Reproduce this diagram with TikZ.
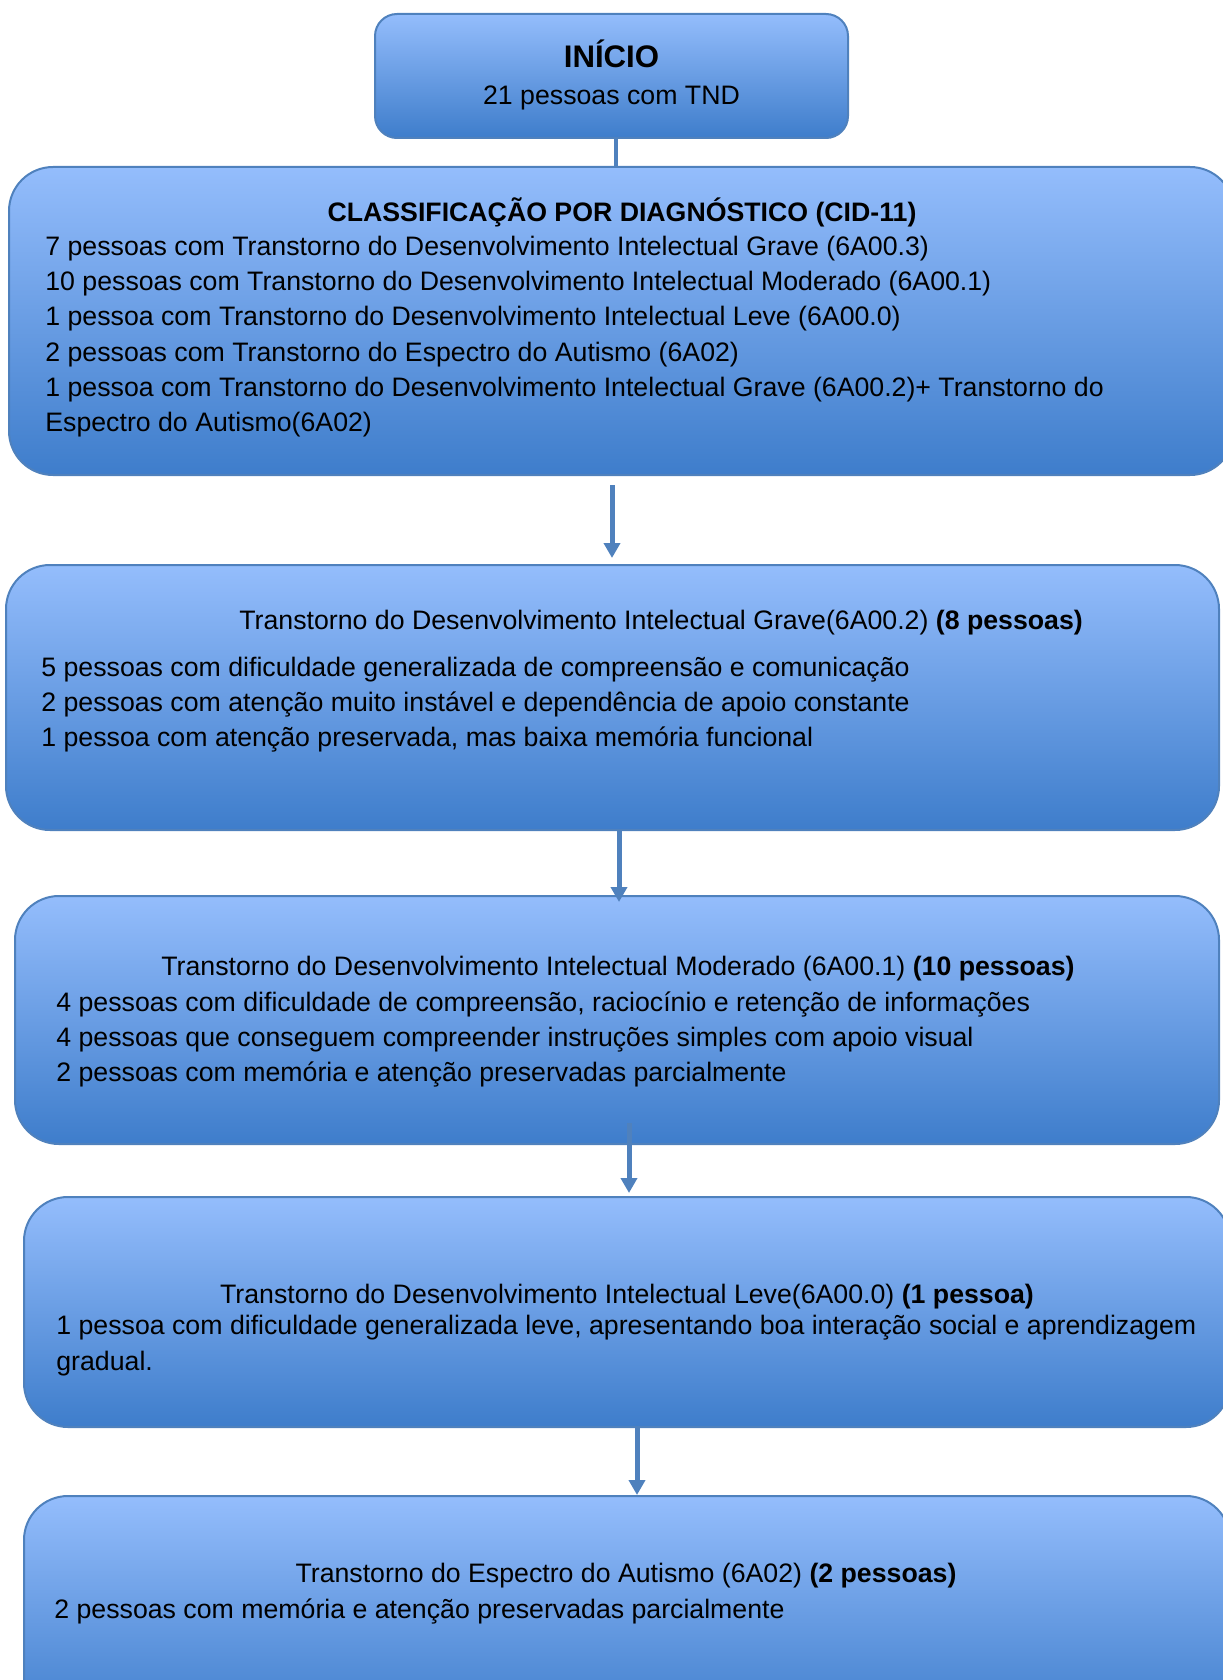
\documentclass[tikz,border=0pt]{standalone}
\usepackage{fontspec}
\setmainfont{Liberation Sans}
\usetikzlibrary{arrows.meta,calc}
\definecolor{azulclaro}{RGB}{148,189,252}
\definecolor{azulescuro}{RGB}{62,125,203}
\definecolor{azulborda}{RGB}{79,129,189}

\begin{document}
\begin{tikzpicture}[x=0.5pt, y=-0.5pt,
    caixa/.style={draw=azulborda, line width=1pt, rounded corners=22pt,
        top color=azulclaro, bottom color=azulescuro, inner sep=0pt},
    titulo/.style={font=\fontsize{13.35}{17.65}\selectfont, inner sep=0pt},
    corpo/.style={font=\fontsize{13.35}{17.65}\selectfont, align=left, anchor=west, inner sep=0pt},
    seta/.style={azulborda, line width=2.5pt, -{Triangle[width=8pt,length=7.5pt]}}]
    \useasboundingbox (0,0) rectangle (1222,1680);

    % Inicio
    \node[caixa, rounded corners=11pt, minimum width=236.5pt, minimum height=62pt] (inicio) at (611.5,76) {};
    \node[titulo, font=\fontsize{15.6}{19}\selectfont\bfseries] (tinicio) at (611.5,54) {INÍCIO};
    \node[titulo] (ninicio) at (611.5,98) {21 pessoas com TND};

    % Classificacao
    \node[caixa, minimum width=612.5pt, minimum height=154pt] (classif) at (621.5,321) {};
    \node[titulo, font=\fontsize{13.35}{17.65}\selectfont\bfseries] (tclassif) at (622,212) {CLASSIFICAÇÃO POR DIAGNÓSTICO (CID-11)};
    \node[corpo] (cclassif) at (45,336.5) {7 pessoas com Transtorno do Desenvolvimento Intelectual Grave (6A00.3)\\
        10 pessoas com Transtorno do Desenvolvimento Intelectual Moderado (6A00.1)\\
        1 pessoa com Transtorno do Desenvolvimento Intelectual Leve (6A00.0)\\
        2 pessoas com Transtorno do Espectro do Autismo (6A02)\\
        1 pessoa com Transtorno do Desenvolvimento Intelectual Grave (6A00.2)+ Transtorno do\\
        Espectro do Autismo(6A02)};

    % Grave
    \node[caixa, minimum width=606.5pt, minimum height=132.5pt] (grave) at (612.5,697.5) {};
    \node[titulo, anchor=west] (tgrave) at (239,623) {Transtorno do Desenvolvimento Intelectual Grave(6A00.2) \textbf{(8 pessoas)}};
    \node[corpo] (cgrave) at (41,704.5) {5 pessoas com dificuldade generalizada de compreensão e comunicação\\
        2 pessoas com atenção muito instável e dependência de apoio constante\\
        1 pessoa com atenção preservada, mas baixa memória funcional};

    % Moderado
    \node[caixa, minimum width=602pt, minimum height=124pt] (moderado) at (617,1020) {};
    \node[titulo] (tmoderado) at (618,969) {Transtorno do Desenvolvimento Intelectual Moderado (6A00.1) \textbf{(10 pessoas)}};
    \node[corpo] (cmoderado) at (56,1039.5) {4 pessoas com dificuldade de compreensão, raciocínio e retenção de informações\\
        4 pessoas que conseguem compreender instruções simples com apoio visual\\
        2 pessoas com memória e atenção preservadas parcialmente};

    % Leve
    \node[caixa, minimum width=603pt, minimum height=115pt] (leve) at (627,1312) {};
    \node[titulo] (tleve) at (627,1297) {Transtorno do Desenvolvimento Intelectual Leve(6A00.0) \textbf{(1 pessoa)}};
    \node[corpo] (cleve) at (56,1345.5) {1 pessoa com dificuldade generalizada leve, apresentando boa interação social e aprendizagem\\
        gradual.};

    % Autismo
    \node[caixa, minimum width=603pt, minimum height=117pt] (autismo) at (627,1613) {};
    \node[titulo] (tautismo) at (626,1576) {Transtorno do Espectro do Autismo (6A02) \textbf{(2 pessoas)}};
    \node[corpo] (cautismo) at (54,1611) {2 pessoas com memória e atenção preservadas parcialmente};

    % Ligacoes
    \draw[azulborda, line width=2.2pt] ($(inicio.south)+(4.5,0)$) -- ($(classif.north)+(-5.5,0)$);
    \draw[seta] ($(classif.south)+(-9.5,9)$) -- ($(grave.north)+(-0.5,-6)$);
    \draw[seta] ($(grave.south)+(6.5,0)$) -- ($(moderado.north)+(2,7)$);
    \draw[seta] ($(moderado.south)+(12,-22)$) -- ($(leve.north)+(2,-3)$);
    \draw[seta] ($(leve.south)+(10,0)$) -- ($(autismo.north)+(10,0)$);
\end{tikzpicture}
\end{document}
